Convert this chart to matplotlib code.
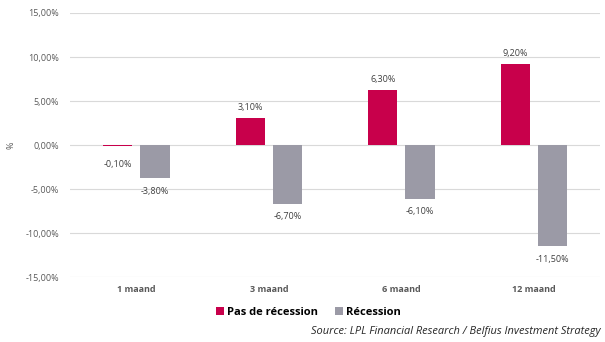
import matplotlib
matplotlib.use("Agg")
import matplotlib.pyplot as plt
import numpy as np

categories = ["1 maand", "3 maand", "6 maand", "12 maand"]
pas_de_recession = [-0.10, 3.10, 6.30, 9.20]
recession = [-3.80, -6.70, -6.10, -11.50]
series_names = ["Pas de récession", "Récession"]
yticks = [-15, -10, -5, 0, 5, 10, 15]

red = "#C8004B"
grey = "#9B9AA6"
txt = "#404040"

plt.rcParams['font.family'] = ['Open Sans', 'DejaVu Sans']

fig = plt.figure(figsize=(6.05, 3.42), dpi=100)
ax = fig.add_axes([0.116, 0.19, 0.876, 0.772])

x = np.arange(len(categories))
w = 0.22
off = 0.14
b1 = ax.bar(x - off, pas_de_recession, w, color=red, label=series_names[0], zorder=3)
b2 = ax.bar(x + off, recession, w, color=grey, label=series_names[1], zorder=3)

def fmt(v):
    return f"{v:.2f}".replace(".", ",") + "%"

for bars, vals in ((b1, pas_de_recession), (b2, recession)):
    for r, v in zip(bars, vals):
        cx = r.get_x() + r.get_width() / 2
        if v >= 0:
            ax.annotate(fmt(v), (cx, v), xytext=(0, 4), textcoords="offset points",
                        ha="center", va="bottom", fontsize=6.5, color=txt)
        else:
            dy = -10 if abs(v) < 1 else -6
            ax.annotate(fmt(v), (cx, v), xytext=(0, dy), textcoords="offset points",
                        ha="center", va="top", fontsize=6.5, color=txt)

ax.set_ylim(-15, 15)
ax.set_xlim(-0.5, len(categories) - 0.5)
ax.set_yticks(yticks)
ax.set_yticklabels([fmt(t) for t in yticks], fontsize=6.5, color="#595959")
ax.set_xticks(x)
ax.set_xticklabels(categories, fontsize=6.5, color="#595959", fontweight="bold")
ax.tick_params(axis="both", length=0, pad=8)
ax.tick_params(axis="x", pad=6)
for s in ax.spines.values():
    s.set_visible(False)
ax.grid(axis="y", color="#D9D9D9", linewidth=0.8, zorder=0)
ax.set_ylabel("%", fontsize=6.5, color="#595959")
ax.yaxis.set_label_coords(-0.104, 0.5)

fig.legend(handles=[b1, b2], labels=series_names, loc="center", bbox_to_anchor=(0.51, 0.087),
           ncol=2, frameon=False, handlelength=0.7, handleheight=0.7,
           handletextpad=0.3, columnspacing=1.5, prop={'weight': 'bold', 'size': 8})
fig.text(0.992, 0.03, "Source: LPL Financial Research / Belfius Investment Strategy",
         ha="right", va="center", fontsize=7.9, style="italic", color="#262626")

fig.savefig("out.png", dpi=100)
